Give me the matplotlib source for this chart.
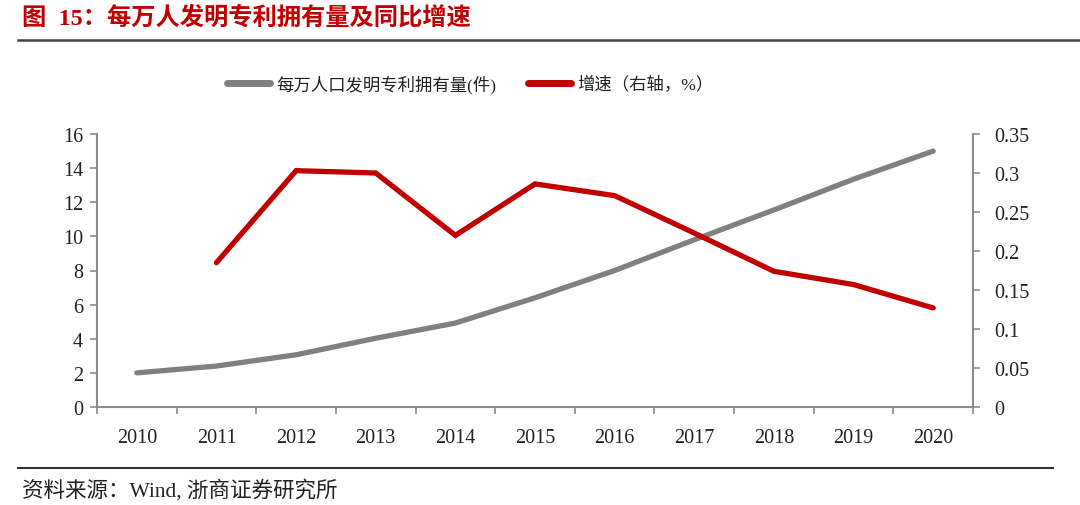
import matplotlib
matplotlib.use("Agg")
import matplotlib.pyplot as plt
from matplotlib.lines import Line2D

years = ["2010", "2011", "2012", "2013", "2014", "2015", "2016", "2017", "2018", "2019", "2020"]
patents = [2.0, 2.4, 3.06, 4.03, 4.92, 6.4, 8.0, 9.8, 11.55, 13.35, 15.0]
growth_years = years[1:]
growth = [0.185, 0.303, 0.300, 0.220, 0.286, 0.271, 0.223, 0.174, 0.157, 0.127]

left_ticks = [0, 2, 4, 6, 8, 10, 12, 14, 16]
right_ticks = [0, 0.05, 0.1, 0.15, 0.2, 0.25, 0.3, 0.35]
right_labels = ["0", "0.05", "0.1", "0.15", "0.2", "0.25", "0.3", "0.35"]

FAM = ["Liberation Serif", "Noto Sans CJK SC", "DejaVu Sans"]
plt.rcParams["font.family"] = FAM

GRAY = "#808080"
RED = "#C00000"
AX = "#8c8c8c"

fig = plt.figure(figsize=(10.8, 5.06), dpi=100)
ax = fig.add_axes([97/1080, 1-408/506, (973-97)/1080, (408-135)/506])
ax2 = ax.twinx()

x = list(range(len(years)))
xg = [years.index(y) for y in growth_years]
l1, = ax.plot(x, patents, color=GRAY, lw=3.8, solid_capstyle="round", zorder=3)
l2, = ax2.plot(xg, growth, color=RED, lw=3.8, solid_capstyle="round", solid_joinstyle="miter", zorder=3)

ax.set_xlim(-0.5, len(years) - 0.5)
ax.set_ylim(0, 16)
ax2.set_ylim(0, 0.35)
ax.set_yticks(left_ticks)
ax.set_yticklabels([str(t) for t in left_ticks])
ax2.set_yticks(right_ticks)
ax2.set_yticklabels(right_labels)
ax.set_xticks(x)
ax.set_xticklabels(years)
ax.set_xticks([i - 0.5 for i in range(len(years) + 1)], minor=True)
ax.tick_params(axis="x", which="major", length=0, pad=15, labelsize=14.5, colors="#222222")
ax.tick_params(axis="x", which="minor", length=5, color=AX, width=1.2, direction="out")
ax.tick_params(axis="y", length=5, color=AX, width=1.2, pad=5, labelsize=14.5, labelcolor="#222222")
ax2.tick_params(axis="y", length=5, color=AX, width=1.2, pad=10, labelsize=14.5, labelcolor="#222222")
for a in (ax, ax2):
    a.spines["top"].set_visible(False)
    for s in ("left", "right", "bottom"):
        a.spines[s].set_color(AX)
        a.spines[s].set_linewidth(1.5)
ax.spines["right"].set_visible(False)
ax2.spines["left"].set_visible(False)
ax2.spines["bottom"].set_visible(False)

# legend
h1 = Line2D([], [], color=GRAY, lw=5, solid_capstyle="round")
h2 = Line2D([], [], color=RED, lw=5, solid_capstyle="round")
fig.legend([h1, h2], ["每万人口发明专利拥有量(件)", "增速（右轴，%）"], loc="center",
           bbox_to_anchor=(470/1080, 1 - 85/506), ncol=2, frameon=False,
           prop={"family": FAM, "size": 12.5}, handlelength=2.5, handletextpad=0.35,
           columnspacing=1.8, labelcolor="#222222")

# title and frame lines
fig.text(22/1080, 1 - 18/506, "图  15：每万人发明专利拥有量及同比增速", color=RED,
         fontsize=17.5, fontweight="bold", va="center", ha="left", family=FAM)
fig.add_artist(Line2D([18/1080, 1.0], [1 - 41/506, 1 - 41/506], color="#444444", lw=1.8))
fig.add_artist(Line2D([18/1080, 1053/1080], [1 - 469/506, 1 - 469/506], color="#333333", lw=1.5))
fig.text(22/1080, 1 - 491/506, "资料来源：Wind, 浙商证券研究所", color="#222222",
         fontsize=15.5, va="center", ha="left", family=FAM)

fig.savefig("out.png", dpi=100)
